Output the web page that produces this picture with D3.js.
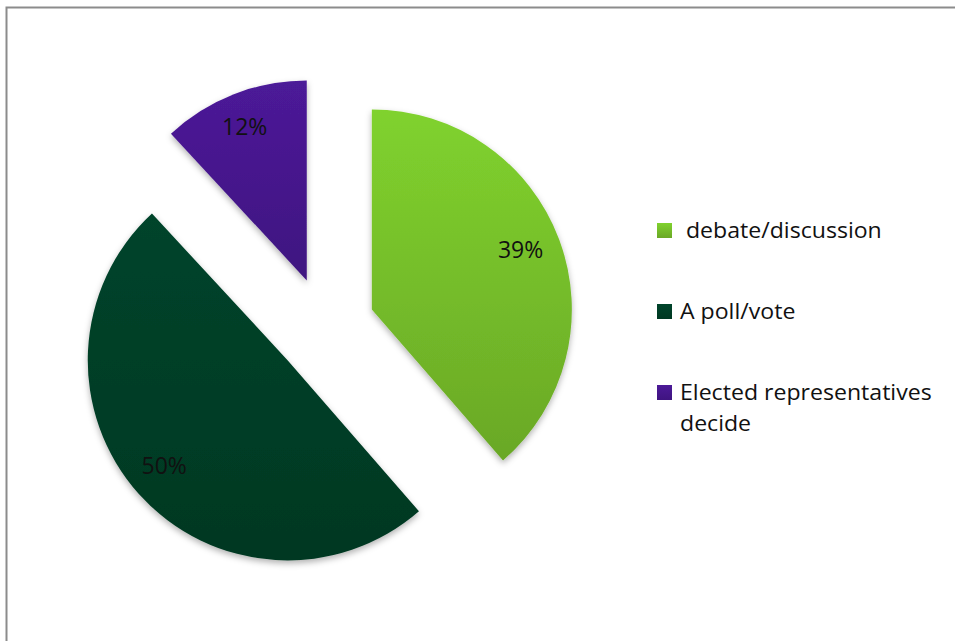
<!DOCTYPE html>
<html>
<head>
<meta charset="utf-8">
<script src="https://cdn.jsdelivr.net/npm/d3@7/dist/d3.min.js"></script>
<style>
  html, body { margin: 0; padding: 0; background: #fff; }
  svg { display: block; }
</style>
</head>
<body>
<svg id="chart" width="955" height="641"></svg>
<script>
// Survey responses: how decisions should be made
const categories = [" debate/discussion", "A poll/vote", "Elected representatives decide"];
const legendLines = [[" debate/discussion"], ["A poll/vote"], ["Elected representatives", "decide"]];
const values = [39, 50, 12];
const labels = ["39%", "50%", "12%"];
const colorTop = ["#80d22e", "#00442b", "#4c1a98"];
const colorBottom = ["#6aa826", "#003822", "#3f1480"];

const svg = d3.select("#chart");
const W = 955, H = 641;
const FONT = "'Open Sans', 'Noto Sans', sans-serif";

// Frame (top and left edges visible)
svg.append("path")
  .attr("d", `M6.5,${H} L6.5,7.5 L${W},7.5`)
  .attr("fill", "none").attr("stroke", "#8c8c8c").attr("stroke-width", 2);

const defs = svg.append("defs");
values.forEach((v, i) => {
  const g = defs.append("linearGradient").attr("id", "grad" + i)
    .attr("x1", 0).attr("y1", 0).attr("x2", 0).attr("y2", 1);
  g.append("stop").attr("offset", "0%").attr("stop-color", colorTop[i]);
  g.append("stop").attr("offset", "100%").attr("stop-color", colorBottom[i]);
});
const shadow = defs.append("filter").attr("id", "shadow")
  .attr("x", "-20%").attr("y", "-20%").attr("width", "140%").attr("height", "140%");
shadow.append("feDropShadow").attr("dx", 0).attr("dy", 3).attr("stdDeviation", 3)
  .attr("flood-color", "#000").attr("flood-opacity", 0.3);

const cx = 325, cy = 327, radius = 200, explode = 50, labelR = 162;

const pie = d3.pie().value(d => d).sort(null);
const arcs = pie(values);
const arc = d3.arc().innerRadius(0).outerRadius(radius);

const slices = svg.append("g").attr("transform", `translate(${cx},${cy})`);

arcs.forEach((a, i) => {
  const mid = (a.startAngle + a.endAngle) / 2;
  const dx = explode * Math.sin(mid), dy = -explode * Math.cos(mid);
  const g = slices.append("g").attr("transform", `translate(${dx},${dy})`);
  g.append("path")
    .attr("d", arc(a))
    .attr("fill", `url(#grad${i})`)
    .attr("filter", "url(#shadow)");
  const lx = labelR * Math.sin(mid) - 3, ly = -labelR * Math.cos(mid) - 4;
  g.append("text")
    .attr("x", lx).attr("y", ly)
    .attr("text-anchor", "middle").attr("dominant-baseline", "central")
    .attr("font-family", FONT)
    .attr("font-size", 23).attr("fill", "#111")
    .text(labels[i]);
});

// Legend
const legend = svg.append("g");
const legendY = [230, 311, 392];
legendLines.forEach((lines, i) => {
  const gi = legend.append("g").attr("transform", `translate(657,${legendY[i]})`);
  gi.append("rect").attr("x", 0).attr("y", -7).attr("width", 15).attr("height", 15)
    .attr("fill", `url(#grad${i})`);
  const t = gi.append("text")
    .attr("transform", "translate(23,0) scale(1.05,1)")
    .attr("font-family", FONT)
    .attr("font-size", 22).attr("fill", "#111")
    .attr("xml:space", "preserve")
    .style("white-space", "pre");
  lines.forEach((ln, j) => {
    t.append("tspan").attr("x", 0).attr("y", 8 + j * 31).text(ln);
  });
});
</script>
</body>
</html>
